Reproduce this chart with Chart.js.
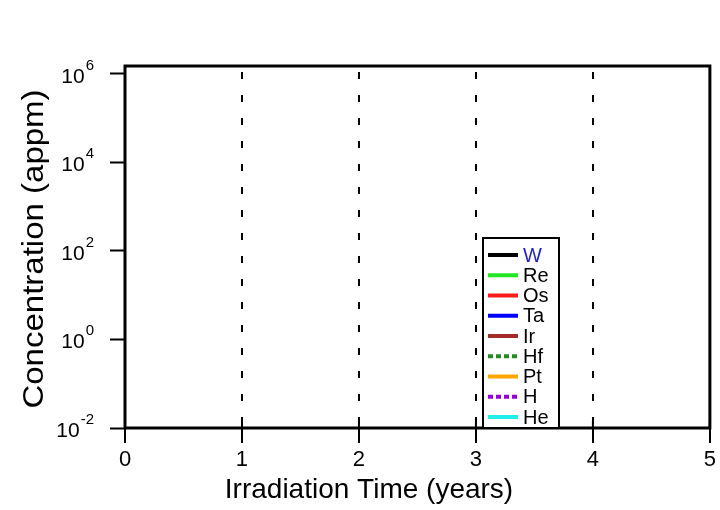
<!DOCTYPE html>
<html>
<head>
<meta charset="utf-8">
<script src="https://cdn.jsdelivr.net/npm/chart.js@4.4.1/dist/chart.umd.min.js"></script>
<style>
  html, body { margin: 0; padding: 0; background: #fff; }
  #wrap { width: 720px; height: 510px; }
</style>
</head>
<body>
<div id="wrap"><canvas id="chart" width="720" height="510"></canvas></div>
<script>
// ── Data ─────────────────────────────────────────
const years        = [0, 1, 2, 3, 4, 5]
const dashedYears  = [1, 2, 3, 4]
const yExponents   = [-2, 0, 2, 4, 6]
const seriesNames  = ['W', 'Re', 'Os', 'Ta', 'Ir', 'Hf', 'Pt', 'H', 'He']
const seriesColors = ['#000000', '#22e622', '#ff1a1a', '#0000ff', '#a52a2a', '#228b22', '#ffa500', '#9400d3', '#22eeee']
const seriesDotted = [false, false, false, false, false, true, false, true, false]
// the reference shows no curves inside the frame, so every series is empty
const seriesValues = [[], [], [], [], [], [], [], [], []]

const FONT = '"Liberation Sans", Arial, Helvetica, sans-serif'

// ── Frame, superscript ticks, titles and legend box ──
const decorations = {
  id: 'decorations',
  afterDraw(chart) {
    const { ctx, chartArea: a, scales } = chart
    ctx.save()

    // full box round the plot
    ctx.strokeStyle = '#000'
    ctx.lineWidth = 3
    ctx.strokeRect(a.left, a.top, a.right - a.left, a.bottom - a.top)

    // short inner part of the x ticks
    ctx.lineWidth = 2
    years.forEach(v => {
      const x = scales.x.getPixelForValue(v)
      ctx.beginPath()
      ctx.moveTo(x, a.bottom)
      ctx.lineTo(x, a.bottom - 7)
      ctx.stroke()
    })

    // y tick labels as 10^n
    ctx.fillStyle = '#000'
    ctx.textBaseline = 'alphabetic'
    ctx.textAlign = 'left'
    scales.y.ticks.forEach(t => {
      const y = scales.y.getPixelForValue(t.value) + 9
      const exp = String(Math.round(Math.log10(t.value)))
      ctx.font = `21px ${FONT}`
      const wBase = ctx.measureText('10').width
      ctx.font = `15px ${FONT}`
      const wExp = ctx.measureText(exp).width
      const right = 94
      ctx.font = `21px ${FONT}`
      ctx.fillText('10', right - wExp - 1 - wBase, y)
      ctx.font = `15px ${FONT}`
      ctx.fillText(exp, right - wExp, y - 13)
    })

    // axis titles
    ctx.textAlign = 'center'
    ctx.font = `28px ${FONT}`
    ctx.fillText('Irradiation Time (years)', 369, 498)

    ctx.save()
    ctx.translate(43, 249)
    ctx.rotate(-Math.PI / 2)
    ctx.scale(1, 0.88)
    ctx.font = `33px ${FONT}`
    ctx.fillText('Concentration (appm)', 0, 0)
    ctx.restore()

    // legend box
    const lx = 483, ly = 238
    ctx.fillStyle = '#fff'
    ctx.fillRect(lx, ly, 76, a.bottom - ly)
    ctx.strokeStyle = '#000'
    ctx.lineWidth = 2
    ctx.strokeRect(lx, ly, 76, a.bottom - ly)

    ctx.textAlign = 'left'
    ctx.textBaseline = 'middle'
    ctx.font = `20px ${FONT}`
    chart.data.datasets.forEach((ds, i) => {
      const cy = 255 + i * 20.25
      ctx.strokeStyle = ds.borderColor
      ctx.lineWidth = 4
      ctx.setLineDash(ds.borderDash || [])
      ctx.beginPath()
      ctx.moveTo(488, cy)
      ctx.lineTo(518, cy)
      ctx.stroke()
      ctx.setLineDash([])
      ctx.fillStyle = i === 0 ? '#2222cc' : '#000'
      ctx.fillText(ds.label, 523, cy + 1)
    })

    ctx.restore()
  },
}

new Chart(document.getElementById('chart'), {
  type: 'line',
  data: {
    datasets: seriesNames.map((name, i) => ({
      label:       name,
      data:        seriesValues[i],
      borderColor: seriesColors[i],
      borderDash:  seriesDotted[i] ? [5, 3] : undefined,
      borderWidth: 3,
      pointRadius: 0,
    })),
  },
  options: {
    responsive: false,
    animation: false,
    devicePixelRatio: 1,
    layout: { padding: { top: 66, right: 8, left: 0, bottom: 0 } },
    plugins: { legend: { display: false }, tooltip: { enabled: false } },
    scales: {
      x: {
        type: 'linear',
        min: 0,
        max: 5,
        afterBuildTicks: s => { s.ticks = years.map(v => ({ value: v })) },
        afterFit: s => { s.height = 82 },
        // in v4 the dash of the grid lines lives under border
        border: { display: false, dash: [7, 16], dashOffset: 17 },
        grid: {
          color: c => (c.tick && dashedYears.includes(c.tick.value)) ? '#000' : 'rgba(0,0,0,0)',
          lineWidth: 2,
          tickLength: 15,
          tickColor: '#000',
          tickWidth: 2,
          tickBorderDash: [],
        },
        ticks: { color: '#000', font: { family: FONT, size: 22 }, padding: 4, maxRotation: 0 },
      },
      y: {
        type: 'logarithmic',
        min: 0.01,
        max: 1.5e6,
        afterBuildTicks: s => { s.ticks = yExponents.map(e => ({ value: Math.pow(10, e) })) },
        afterFit: s => { s.width = 125 },
        border: { display: false },
        grid: { drawOnChartArea: false, tickLength: 15, tickColor: '#000', tickWidth: 2 },
        ticks: { callback: () => '' },
      },
    },
  },
  plugins: [decorations],
})
</script>
</body>
</html>
